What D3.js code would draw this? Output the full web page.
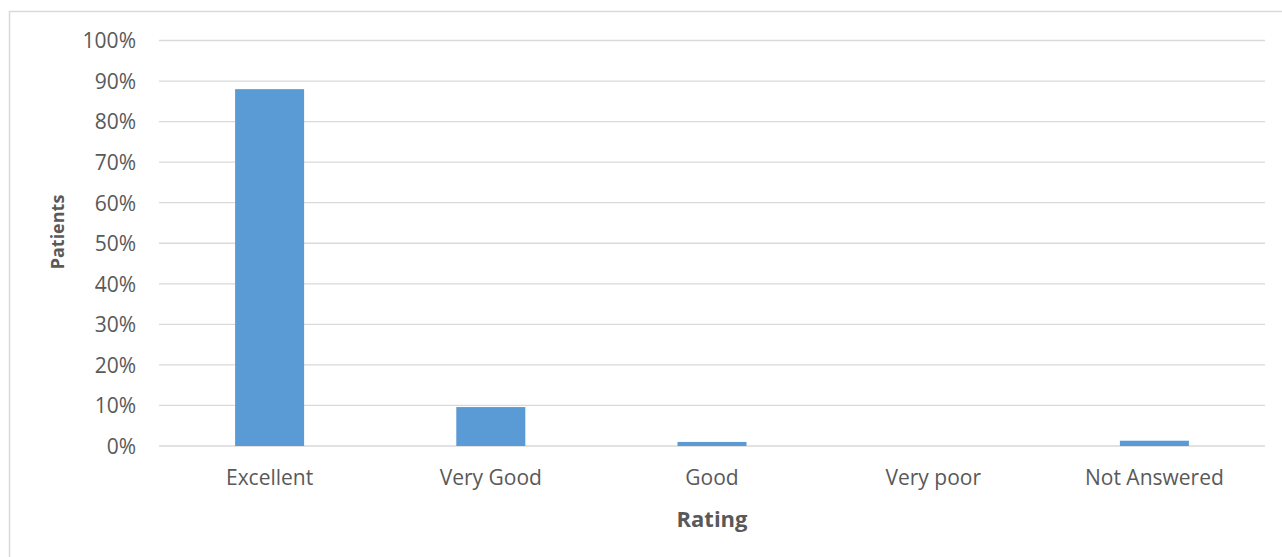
<!DOCTYPE html>
<html>
<head>
<meta charset="utf-8">
<script src="https://cdn.jsdelivr.net/npm/d3@7"></script>
<style>
  html, body { margin: 0; padding: 0; background: #fff; }
  svg { display: block; }
  text { font-family: "Open Sans", "Noto Sans", sans-serif; }
</style>
</head>
<body>
<svg id="chart" width="1282" height="557"></svg>
<script>
const categories = ["Excellent", "Very Good", "Good", "Very poor", "Not Answered"];
const values = [0.88, 0.096, 0.01, 0, 0.013];
const yTicks = [0, 0.1, 0.2, 0.3, 0.4, 0.5, 0.6, 0.7, 0.8, 0.9, 1.0];
const xTitle = "Rating";
const yTitle = "Patients";

const svg = d3.select("#chart");
const W = 1282, H = 557;
const plot = { left: 159, right: 1265, top: 40.5, bottom: 446 };

// outer chart border
svg.append("rect")
  .attr("x", 9.5).attr("y", 11.5)
  .attr("width", W + 10).attr("height", H + 10)
  .attr("fill", "#fff").attr("stroke", "#d9d9d9").attr("stroke-width", 1.5);

const x = d3.scaleBand().domain(categories).range([plot.left, plot.right]).paddingInner(0.688).paddingOuter(0.344);
const y = d3.scaleLinear().domain([0, 1]).range([plot.bottom, plot.top]);

// gridlines
svg.append("g").selectAll("line").data(yTicks).join("line")
  .attr("x1", plot.left).attr("x2", plot.right)
  .attr("y1", d => y(d)).attr("y2", d => y(d))
  .attr("stroke", "#d9d9d9").attr("stroke-width", 1.3);

// y axis labels
const yAxis = d3.axisLeft(y).tickValues(yTicks).tickFormat(d3.format(".0%")).tickSize(0).tickPadding(0);
const gy = svg.append("g").attr("transform", `translate(136,0)`).call(yAxis);
gy.select(".domain").remove();
gy.selectAll("text").attr("fill", "#595959").style("font-size", "21px").style("font-family", "'Open Sans', sans-serif").attr("dy", "0.35em");

// bars
svg.append("g").selectAll("rect").data(categories).join("rect")
  .attr("x", d => x(d))
  .attr("width", x.bandwidth())
  .attr("y", (d, i) => y(values[i]))
  .attr("height", (d, i) => plot.bottom - y(values[i]))
  .attr("fill", "#5b9bd5");

// x axis labels
const xAxis = d3.axisBottom(x).tickSize(0).tickPadding(0);
const gx = svg.append("g").attr("transform", `translate(0,477.5)`).call(xAxis);
gx.select(".domain").remove();
gx.selectAll("text").attr("fill", "#595959").style("font-size", "21px").style("font-family", "'Open Sans', sans-serif").attr("dy", "0.35em");

// axis titles
svg.append("text")
  .attr("x", (plot.left + plot.right) / 2).attr("y", 519).attr("dy", "0.35em")
  .attr("text-anchor", "middle").attr("fill", "#595959")
  .style("font-size", "22px").style("font-weight", "bold")
  .text(xTitle);

svg.append("text")
  .attr("transform", `translate(58,232) rotate(-90)`).attr("dy", "0.35em")
  .attr("text-anchor", "middle").attr("fill", "#595959")
  .style("font-size", "18px").style("font-weight", "bold")
  .text(yTitle);
</script>
</body>
</html>
